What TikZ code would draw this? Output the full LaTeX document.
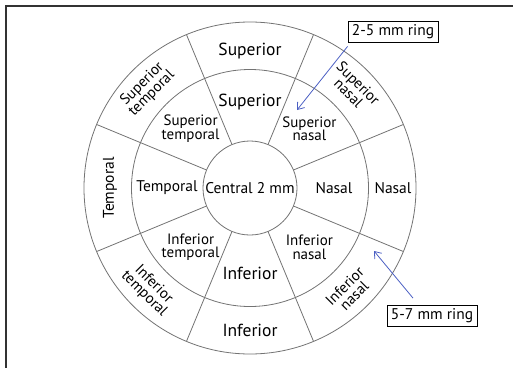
\documentclass[tikz,border=0pt]{standalone}
\usepackage{fontspec}
\setmainfont{PT Sans}
\usepackage{xcolor}
\usepackage{tikz}
\usetikzlibrary{arrows.meta, positioning}
\definecolor{ringgray}{RGB}{115,115,115}
\definecolor{framegray}{RGB}{50,50,50}
\definecolor{arrowblue}{RGB}{75,95,195}

\begin{document}
\begin{tikzpicture}[
    x=1pt, y=1pt, >={Straight Barb[length=6pt, width=9pt]},
    ring/.style={draw=ringgray, line width=0.8pt},
    big label/.style={font=\fontsize{17.5}{19}\selectfont, inner sep=0pt},
    mid label/.style={font=\fontsize{15.5}{17}\selectfont, inner sep=0pt},
    small label/.style={font=\fontsize{15}{13.5}\selectfont, align=center, inner sep=0pt},
    callout/.style={draw=black, line width=0.8pt, font=\fontsize{15.5}{17}\selectfont,
        minimum width=90pt, minimum height=21pt, inner sep=1pt},
    pointer/.style={->, draw=arrowblue, line width=0.8pt}
]
\useasboundingbox (-250,-179) rectangle (263,188);
% Frame
\draw[framegray, line width=1.2pt] (-244,-190) -- (-244,182) -- (280,182);

% Rings
\draw[ring] (0,0) circle (47);
\draw[ring] (0,0) circle (118.5);
\draw[ring] (0,0) circle (166);
\foreach \a in {22.5,67.5,...,337.5}
    \draw[ring] (\a:47) -- (\a:166);

% Nodes
\node[mid label] (C) at (0,0) {Central 2 mm};

% 2-5 mm ring
\node[mid label] (MN) at (0:84) {Nasal};
\node[small label] (MSN) at (45:84) {Superior\\nasal};
\node[big label] (MS) at (90:86) {Superior};
\node[small label] (MST) at (135:84) {Superior\\temporal};
\node[mid label] (MT) at (180:83) {Temporal};
\node[small label] (MIT) at (225:84) {Inferior\\temporal};
\node[big label] (MI) at (270:85) {Inferior};
\node[small label] (MIN) at (315:84) {Inferior\\nasal};

% 5-7 mm ring
\node[mid label] (ON) at (0:143) {Nasal};
\node[small label, rotate=-45] (OSN) at (44:144) {Superior\\nasal};
\node[big label] (OS) at (90:137) {Superior};
\node[small label, rotate=45] (OST) at (136:143) {Superior\\temporal};
\node[mid label, rotate=90] (OT) at (180:140) {Temporal};
\node[small label, rotate=-45] (OIT) at (225:143) {Inferior\\temporal};
\node[big label] (OI) at (270:142) {Inferior};
\node[small label, rotate=45] (OIN) at (314:143) {Inferior\\nasal};

% Callouts
\node[callout] (R25) at (143,156.5) {2-5 mm ring};
\node[callout] (R57) at (182,-128) {5-7 mm ring};
\coordinate (R25 tip) at (47,78);
\coordinate (R57 tip) at (124,-63);

\draw[pointer] ([yshift=-4pt]R25.south west) -- (R25 tip);
\draw[pointer] ([xshift=-19pt, yshift=7pt]R57.north) -- (R57 tip);

\end{tikzpicture}
\end{document}
